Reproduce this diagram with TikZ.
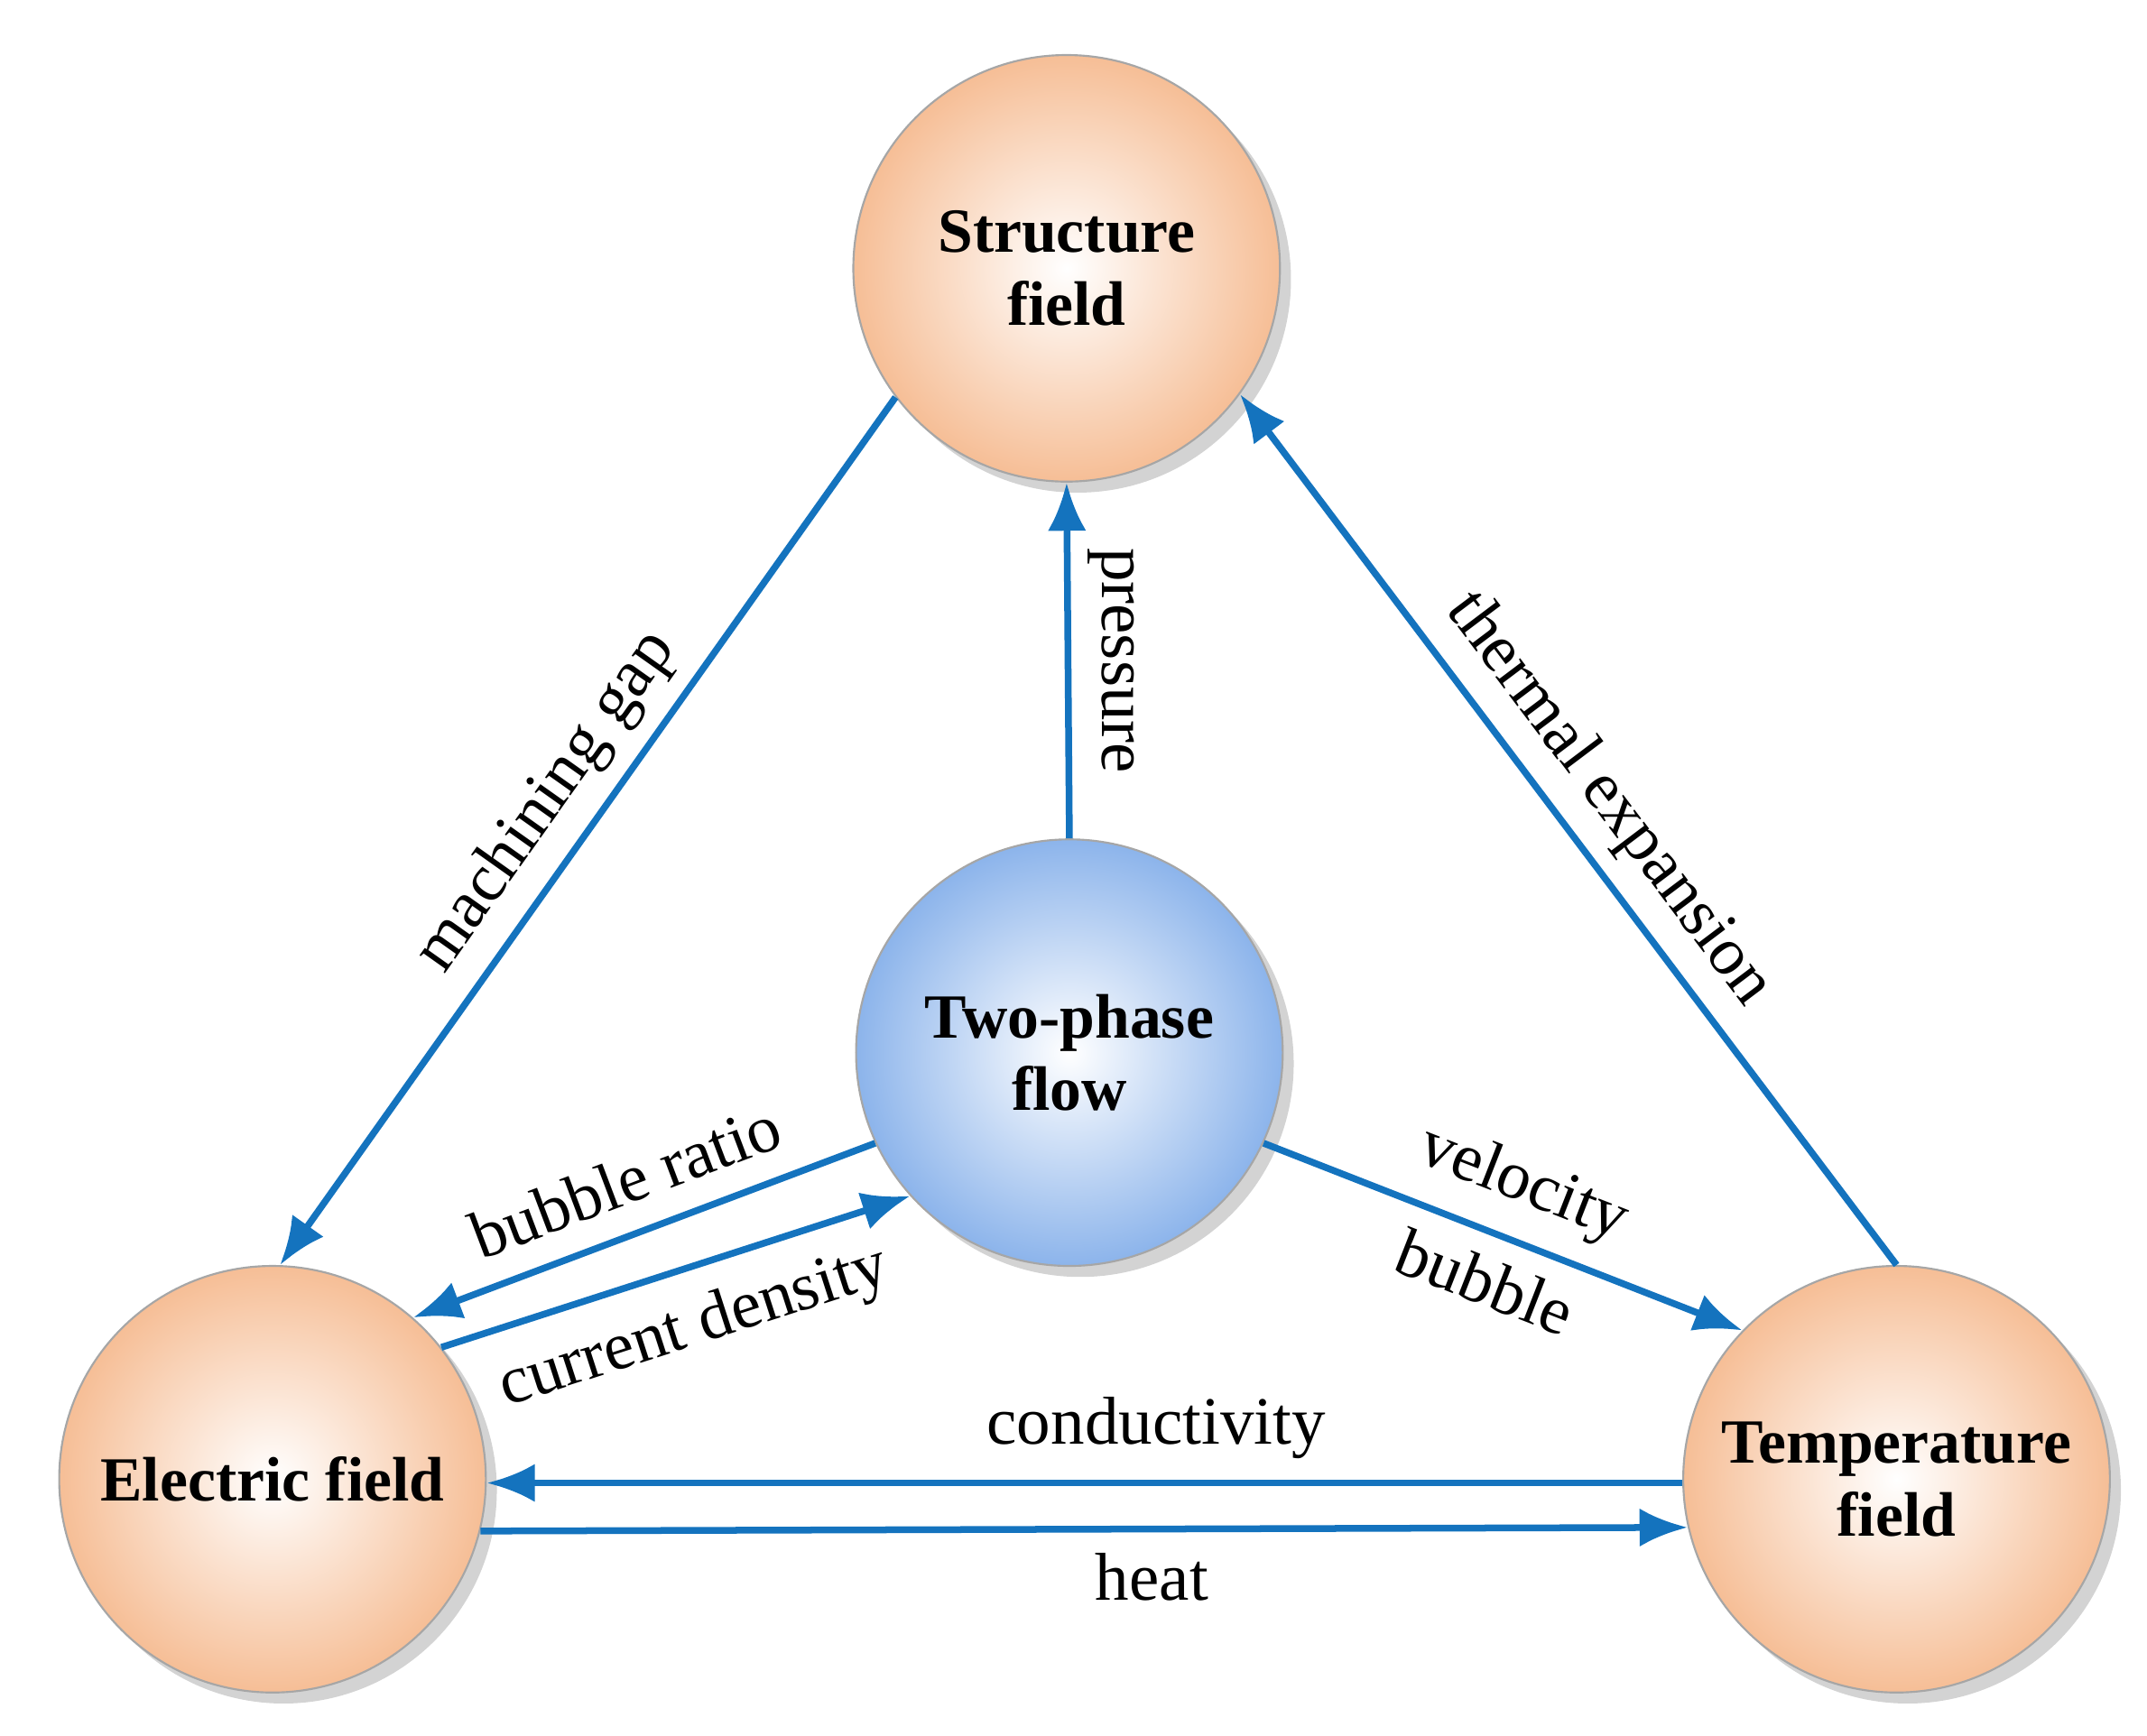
\documentclass[tikz,border=0pt]{standalone}
\usepackage{fontspec}
\setmainfont{Liberation Serif}
\usetikzlibrary{shadows,arrows.meta}

\definecolor{peach}{RGB}{246,190,150}
\definecolor{skyblue}{RGB}{140,180,235}
\definecolor{linkblue}{RGB}{20,115,190}

\tikzset{
  field/.style={circle, draw=gray!70, minimum size=3.1cm, inner color=white,
    outer color=peach, drop shadow={opacity=0.35, shadow xshift=0.8mm, shadow yshift=-0.8mm},
    align=center, font=\fontsize{13}{15}\selectfont\bfseries},
  flow/.style={field, outer color=skyblue},
  link/.style={draw=linkblue, line width=1.4pt, -{Latex[length=3.5mm, width=2.8mm]}},
  tag/.style={font=\fontsize{14}{16}\selectfont, sloped}
}

\begin{document}
\begin{tikzpicture}
            \useasboundingbox (0,0) rectangle (15.6,-12.61);

            % Nodes

            \node[field] (sf) at (7.75,-1.95) {Structure\\field};
            \node[flow] (tp) at (7.77,-7.65) {Two-phase\\flow};
            \node[field] (ef) at (1.98,-10.75) {Electric field};
            \node[field] (tf) at (13.78,-10.75) {Temperature\\field};

            % Edges

            \draw[link] (sf.217) -- node[tag, above] {machining gap} (ef.88);
            \draw[link] (tp.90) -- node[font=\fontsize{14}{16}\selectfont, rotate=-90, anchor=south] {pressure} (sf.270);
            \draw[link] (tf.90) -- node[tag, above] {thermal expansion} (sf.-36);
            \draw[link] (tp.205) -- node[tag, above=2pt] {bubble ratio} (ef.49);
            \draw[link] (ef.38) -- node[tag, below=2pt] {current density} (tp.222);
            \draw[link] (tp.-25) -- node[tag, above=1pt] {velocity} node[tag, below=1pt] {bubble} (tf.136);
            \draw[link] (tf.181) -- node[tag, above=1pt, pos=0.44] {conductivity} (ef.-1);
            \draw[link] (ef.-14) -- node[tag, below=1pt, pos=0.556] {heat} (tf.193);

\end{tikzpicture}
\end{document}
